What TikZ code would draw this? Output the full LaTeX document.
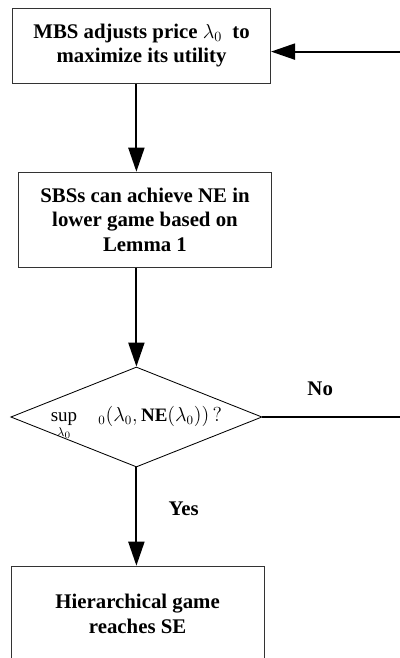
\documentclass[tikz,border=0pt]{standalone}
\usepackage{fontspec}
\setmainfont{Liberation Serif}
\usetikzlibrary{arrows.meta,shapes.geometric}

\begin{document}
\begin{tikzpicture}[x=1cm,y=1cm,box/.style={draw=black!80,line width=.6pt,inner sep=0pt,align=center,font=\fontsize{14.8}{17.5}\selectfont\bfseries},dec/.style={draw,diamond,line width=.6pt,inner sep=0pt,minimum width=6.28cm,minimum height=2.5cm,font=\fontsize{13.5}{17}\selectfont},lab/.style={inner sep=0pt,font=\fontsize{14.8}{17.5}\selectfont\bfseries},arr/.style={-{Triangle[length=.6cm,width=.4cm]},line width=1.4pt}]
\useasboundingbox(0,0)rectangle(10,-16.45);

% Upper game: leader price, then followers' equilibrium.
\node[box,minimum width=6.45cm,minimum height=1.875cm](adj)at(3.54,-1.14){MBS adjusts price $\lambda_0$\ \ to\\maximize its utility};
\node[box,minimum width=6.33cm,minimum height=2.375cm](eq)at(3.625,-5.49){SBSs can achieve NE in\\lower game based on\\Lemma 1};
\node[dec](chk)at(3.41,-10.425){\smash{\makebox[0pt]{\raisebox{-.1cm}{$\sup\limits_{\lambda_0}\hspace{.45cm}{}_0(\lambda_0,\textrm{\textbf{NE}}(\lambda_0))\,?$}}}};
\node[box,minimum width=6.33cm,minimum height=2.375cm](se)at(3.44,-15.34){Hierarchical game\\reaches SE};

\draw[arr](adj.south-|chk.north)--(eq.north-|chk.north);
\draw[arr](eq.south-|chk.north)--(chk.north);
\draw[arr](chk.south)--node[lab,pos=.42,right=.78cm]{Yes}(se.north-|chk.south);

% Loop back runs off the right edge.
\coordinate(outno)at(10,-10.425);
\coordinate(outback)at(10,-1.29);
\draw[line width=1.4pt](chk.east)--node[lab,pos=.42,above=.5cm]{No}(outno);
\draw[arr](outback)--(outback-|adj.east);
\end{tikzpicture}
\end{document}
